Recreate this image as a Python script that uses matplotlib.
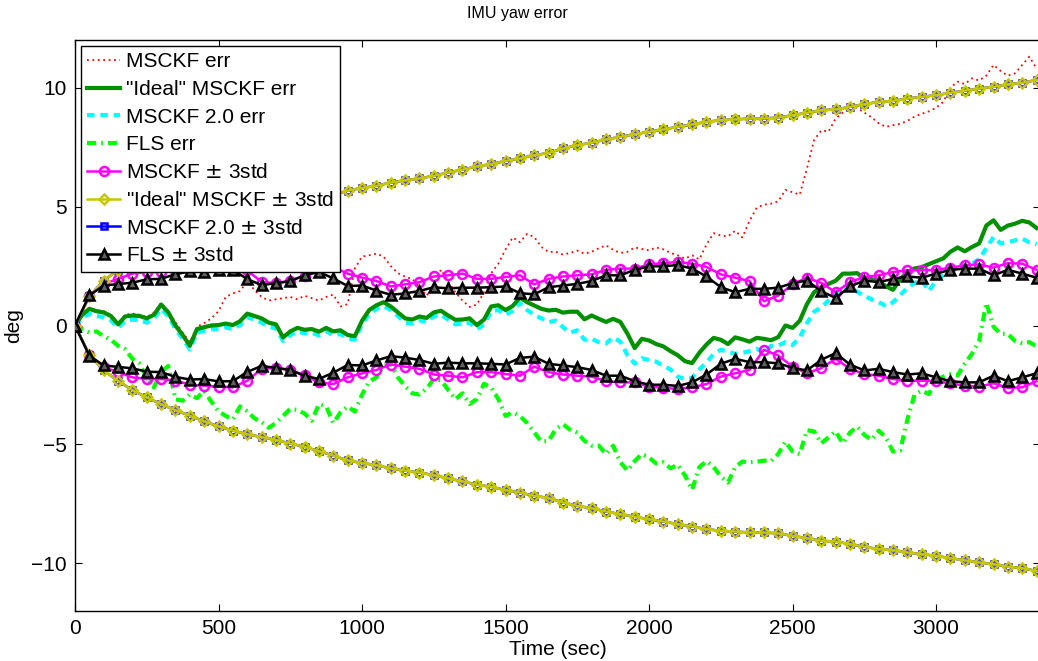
import numpy as np
import matplotlib
matplotlib.use("Agg")
import matplotlib.pyplot as plt

plt.rcParams['font.family'] = ['Liberation Sans', 'DejaVu Sans']

# time grids (sec): std bounds every 50 s, errors every 25 s
t_std = np.arange(0, 3351, 50)
t_err = np.arange(0, 3351, 25)

# 3-sigma bounds (deg), plotted as +/-
msckf_std = [0, 1.25, 1.75, 1.96, 2.18, 2.25, 2.25, 2.32, 2.48, 2.53,
             2.57, 2.60, 2.32, 1.83, 1.78, 1.87, 2.10, 2.39, 2.46, 2.18,
             2.01, 1.87, 1.64, 1.73, 1.82, 2.06, 2.11, 2.18, 1.96, 1.96,
             2.04, 2.11, 1.73, 1.96, 2.06, 2.11, 2.15, 2.34, 2.39, 2.39,
             2.57, 2.62, 2.67, 2.60, 2.46, 2.15, 2.01, 1.87, 1.02, 1.26,
             1.73, 2.01, 1.79, 1.40, 1.82, 2.04, 2.11, 2.25, 2.32, 2.32,
             2.34, 2.43, 2.53, 2.57, 2.43, 2.62, 2.60, 2.34]
ideal_std = [0, 1.22, 1.89, 2.33, 2.72, 3.02, 3.31, 3.56, 3.79, 4.03,
             4.24, 4.42, 4.57, 4.69, 4.81, 4.96, 5.10, 5.28, 5.47, 5.67,
             5.78, 5.87, 6.01, 6.10, 6.18, 6.29, 6.43, 6.55, 6.69, 6.78,
             6.92, 7.02, 7.16, 7.25, 7.44, 7.58, 7.68, 7.82, 7.93, 8.04,
             8.14, 8.24, 8.35, 8.45, 8.56, 8.63, 8.66, 8.70, 8.70, 8.74,
             8.84, 8.94, 9.05, 9.08, 9.19, 9.30, 9.40, 9.44, 9.54, 9.61,
             9.68, 9.78, 9.87, 9.96, 10.03, 10.14, 10.20, 10.32]
msckf2_std = list(ideal_std)  # lies right under the "Ideal" curve
fls_std = [0, 1.27, 1.68, 1.74, 1.80, 1.94, 1.96, 2.16, 2.27, 2.25,
           2.35, 2.34, 1.95, 1.70, 1.78, 1.87, 2.11, 2.25, 1.98, 1.66,
           1.68, 1.47, 1.29, 1.35, 1.45, 1.61, 1.56, 1.59, 1.59, 1.61,
           1.64, 1.36, 1.31, 1.61, 1.68, 1.75, 1.87, 2.11, 2.11, 2.34,
           2.49, 2.49, 2.54, 2.39, 2.06, 1.61, 1.40, 1.54, 1.54, 1.59,
           1.78, 1.89, 1.44, 1.16, 1.64, 1.89, 1.82, 1.96, 2.06, 2.01,
           2.18, 2.34, 2.39, 2.39, 2.11, 2.34, 2.18, 2.01]

# yaw errors (deg)
msckf_err = [0, 0.50, 0.75, 0.65, 0.60, 0.45, 0.10, 0.45, 0.50, 0.45,
             0.35, 0.55, 0.95, 0.60, 0.15, -0.30, -0.70, -0.05, 0.10, 0.30,
             0.60, 1.20, 1.35, 1.45, 1.85, 1.50, 1.20, 1.05, 1.10, 1.15,
             1.20, 1.10, 1.25, 1.15, 1.05, 1.20, 1.30, 0.80, 0.90, 2.40,
             2.90, 2.95, 3.02, 2.90, 2.50, 2.20, 2.05, 1.95, 1.65, 1.25,
             1.70, 2.35, 1.85, 1.40, 1.05, 0.78, 0.88, 1.40, 2.20, 2.60,
             3.20, 3.70, 3.50, 3.85, 3.72, 3.30, 3.09, 3.10, 2.98, 3.05,
             3.15, 3.02, 3.10, 3.25, 3.37, 3.18, 3.05, 3.10, 3.28, 3.22,
             3.16, 3.28, 3.20, 3.05, 2.95, 2.81, 2.95, 2.78, 3.40, 3.88,
             3.78, 3.75, 3.98, 3.70, 4.40, 4.95, 5.08, 5.12, 5.22, 5.70,
             5.60, 5.50, 6.60, 7.80, 8.20, 8.15, 8.70, 8.95, 9.20, 9.15,
             8.95, 8.75, 8.50, 8.35, 8.42, 8.48, 8.60, 8.78, 8.90, 9.00,
             9.15, 9.40, 10.00, 10.25, 10.15, 10.39, 10.30, 10.50, 10.95, 10.70,
             10.50, 10.60, 10.95, 11.30, 10.80]
ideal_err = [0, 0.45, 0.70, 0.60, 0.55, 0.40, 0.05, 0.38, 0.42, 0.40,
             0.30, 0.45, 0.88, 0.55, 0.00, -0.40, -0.85, -0.15, -0.07, 0.00,
             0.02, 0.08, 0.02, 0.18, 0.50, 0.40, 0.30, 0.12, 0.05, -0.50,
             -0.25, -0.10, -0.18, -0.15, -0.26, -0.10, -0.25, -0.20, -0.40, -0.45,
             0.20, 0.65, 0.85, 0.98, 0.80, 0.55, 0.30, 0.25, 0.38, 0.32,
             0.55, 0.62, 0.42, 0.24, 0.25, 0.30, 0.02, 0.25, 0.80, 0.85,
             0.65, 0.82, 1.18, 0.98, 0.84, 0.70, 0.63, 0.66, 0.54, 0.58,
             0.58, 0.26, 0.42, 0.28, 0.15, 0.28, 0.15, -0.35, -0.95, -0.56,
             -0.63, -0.78, -0.88, -1.08, -1.25, -1.50, -1.58, -1.15, -0.80, -0.52,
             -0.60, -0.78, -0.50, -0.58, -0.68, -0.52, -0.56, -0.62, -0.49, 0.00,
             -0.10, 0.20, 0.90, 1.40, 1.60, 1.75, 1.88, 2.18, 2.18, 2.20,
             1.98, 1.95, 1.85, 1.65, 1.50, 1.95, 2.25, 2.40, 2.45, 2.58,
             2.70, 2.82, 3.10, 3.28, 3.12, 3.30, 3.45, 4.20, 4.42, 4.02,
             4.20, 4.28, 4.40, 4.33, 4.10]
msckf2_err = [0, 0.30, 0.50, 0.40, 0.35, 0.22, -0.10, 0.20, 0.25, 0.22,
              0.12, 0.30, 0.70, 0.40, -0.15, -0.55, -1.00, -0.30, -0.22, -0.15,
              -0.15, -0.08, -0.15, 0.02, 0.35, 0.25, 0.12, -0.05, -0.12, -0.65,
              -0.40, -0.25, -0.33, -0.30, -0.42, -0.25, -0.40, -0.36, -0.55, -0.60,
              0.05, 0.50, 0.70, 0.82, 0.65, 0.40, 0.12, 0.08, 0.22, 0.15,
              0.38, 0.45, 0.25, 0.05, 0.08, 0.12, -0.15, 0.05, 0.60, 0.65,
              0.45, 0.62, 0.95, 0.65, 0.45, 0.30, 0.14, 0.21, -0.07, -0.30,
              -0.20, -0.60, -0.56, -0.70, -0.75, -0.50, -0.68, -1.25, -1.60, -1.38,
              -1.45, -1.52, -1.70, -1.85, -2.15, -2.25, -2.20, -1.85, -1.55, -1.20,
              -1.02, -1.10, -1.19, -1.15, -1.08, -0.98, -1.15, -0.86, -0.84, -0.70,
              -0.82, -0.50, 0.10, 0.58, 0.76, 1.05, 1.35, 1.62, 1.65, 1.42,
              1.25, 1.10, 0.98, 0.82, 0.98, 1.28, 1.58, 1.80, 1.89, 1.45,
              1.90, 2.10, 2.38, 2.56, 2.55, 2.60, 2.78, 3.25, 3.72, 3.45,
              3.50, 3.58, 3.65, 3.50, 3.42]
fls_err = [0, -0.15, -0.30, -0.25, -0.45, -0.60, -0.85, -1.00, -1.40, -1.60,
           -2.20, -2.60, -1.95, -1.70, -3.10, -3.16, -2.90, -3.05, -2.75, -3.20,
           -3.60, -3.80, -3.95, -3.40, -3.60, -3.90, -4.05, -4.30, -4.10, -3.80,
           -3.50, -3.55, -3.70, -4.00, -3.30, -3.40, -4.10, -3.65, -3.40, -3.62,
           -2.90, -2.35, -2.18, -1.70, -1.60, -2.18, -2.55, -2.85, -2.90, -2.65,
           -2.25, -2.30, -2.70, -3.10, -2.85, -3.30, -3.09, -2.45, -2.60, -3.10,
           -3.80, -3.65, -3.80, -4.10, -4.50, -4.88, -4.85, -4.35, -4.15, -4.38,
           -4.50, -4.85, -5.05, -5.05, -5.40, -5.05, -5.75, -6.10, -5.70, -5.40,
           -5.55, -5.80, -5.75, -6.00, -5.85, -6.30, -6.90, -5.95, -5.70, -5.95,
           -6.35, -6.60, -5.95, -5.72, -5.75, -5.72, -5.68, -5.70, -5.40, -4.88,
           -5.30, -5.40, -4.40, -4.45, -4.95, -4.70, -4.45, -4.95, -4.50, -4.25,
           -4.60, -4.80, -4.42, -4.70, -5.30, -5.25, -3.95, -2.90, -2.74, -2.88,
           -2.30, -2.15, -2.05, -2.10, -1.60, -1.19, -0.65, 0.95, -0.05, -0.35,
           -0.35, -0.65, -0.75, -0.70, -0.88]

fig = plt.figure(figsize=(10.38, 6.61), dpi=100)
ax = fig.add_axes([75 / 1038, 50 / 661, 965 / 1038, 571 / 661])

# error curves
ax.plot(t_err, msckf_err, color='#ff0000', linestyle=(0, (1, 2)), lw=1.3,
        label='MSCKF err', zorder=2)
ax.plot(t_err, ideal_err, color='#009000', linestyle='-', lw=3,
        label='"Ideal" MSCKF err', zorder=2.2)
ax.plot(t_err, msckf2_err, color='#00ffff', linestyle=(0, (1.8, 1.4)), lw=3,
        label='MSCKF 2.0 err', zorder=2.1)
ax.plot(t_err, fls_err, color='#00ff00', linestyle=(0, (2.2, 1.2, 0.4, 1.2)), lw=3,
        label='FLS err', zorder=2)

# +/- 3 sigma bounds
bounds = [
    (msckf_std, '#ff00ff', 'o', 6.5, 'none', 'MSCKF $\\pm$ 3std', 3),
    (ideal_std, '#c8c800', 'D', 5.5, 'none', '"Ideal" MSCKF $\\pm$ 3std', 3.4),
    (msckf2_std, '#0000ff', 's', 4.5, 'none', 'MSCKF 2.0 $\\pm$ 3std', 3.2),
    (fls_std, '#000000', '^', 7.5, '#606060', 'FLS $\\pm$ 3std', 3.5),
]
for std, col, mk, ms, mfc, lab, z in bounds:
    s = np.array(std)
    kw = dict(color=col, marker=mk, markersize=ms, markerfacecolor=mfc,
              markeredgewidth=1.8, lw=1.8, zorder=z)
    ax.plot(t_std, s, label=lab, **kw)
    ax.plot(t_std, -s, **kw)

ax.set_xlim(0, 3362)
ax.set_ylim(-12, 12)
ax.set_xticks(np.arange(0, 3001, 500))
ax.set_yticks([-10, -5, 0, 5, 10])
ax.tick_params(direction='in', length=5, width=0.8, top=True, right=True,
               labelsize=15, pad=6)
for sp in ax.spines.values():
    sp.set_linewidth(1.0)

ax.set_title('IMU yaw error', fontsize=11.5, pad=16, x=(517 - 75) / 965)
ax.set_xlabel('Time (sec)', fontsize=15, labelpad=1)
ax.set_ylabel('deg', fontsize=15, labelpad=6)

leg = ax.legend(loc='upper left', bbox_to_anchor=(0.006, 0.9895), borderaxespad=0,
                fancybox=False, edgecolor='black', framealpha=1, fontsize=15,
                handlelength=1.6, handletextpad=0.25, borderpad=0.3,
                labelspacing=0.42)
leg.get_frame().set_linewidth(1.0)

fig.savefig('out.png', dpi=100)
